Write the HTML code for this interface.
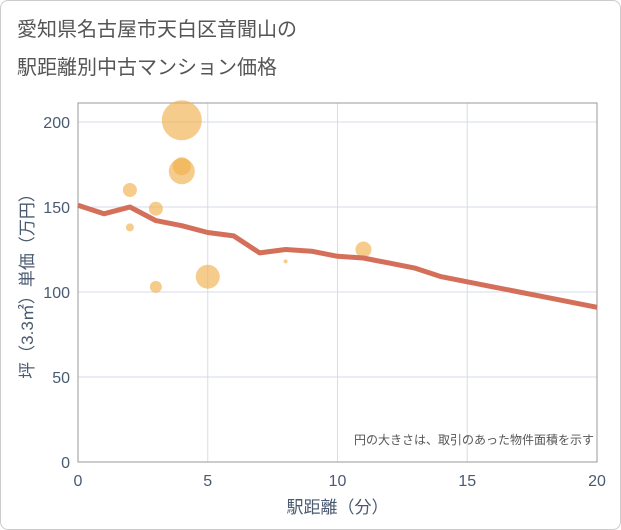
<!DOCTYPE html>
<html><head><meta charset="utf-8"><style>
body{margin:0;background:#fff;font-family:"Liberation Sans","Noto Sans CJK JP",sans-serif;}
#wrap{position:relative;width:619px;height:528px;border:1px solid #ccc;border-radius:8px;overflow:hidden;background:#fff}
.title{position:absolute;left:16px;font-size:20px;color:#555;line-height:30px}
</style></head><body>
<div id="wrap">
<div class="title" style="top:14px">愛知県名古屋市天白区音聞山の</div>
<div class="title" style="top:52px">駅距離別中古マンション価格</div>
<svg id="chart" width="621" height="530" style="position:absolute;left:-1px;top:-1px"></svg>
</div>
<script>
const xTicks=[0,5,10,15,20];
const yTicks=[0,50,100,150,200];
const lineX=[0,1,2,3,4,5,6,7,8,9,10,11,12,13,14,15,16,17,18,19,20];
const lineY=[151,146,150,142,139,135,133,123,125,124,121,120,117,114,109,106,103,100,97,94,91];
const bubbleX=[4,4,4,2,3,2,11,5,3,8];
const bubbleY=[201,174,171,160,149,138,125,109,103,118];
const bubbleR=[20,9,13,7,7,4,8,12,6,2];
const NS='http://www.w3.org/2000/svg';
const svg=document.getElementById('chart');
const L=78,R=597,T=103,B=462;
const AX='#4a5a70';
const sx=v=>L+(v-0)/(20-0)*(R-L);
const sy=v=>B-v*1.7;
function mk(tag,attrs,parent){const e=document.createElementNS(NS,tag);for(const k in attrs)e.setAttribute(k,attrs[k]);(parent||svg).appendChild(e);return e;}
let e=mk('rect',{x:L,y:T,width:R-L,height:B-T,fill:'#fff',stroke:'none'});


yTicks.forEach(v=>{
 let g=mk('line',{x1:L,x2:R,y1:sy(v),y2:sy(v),stroke:'#d5dde8','stroke-width':1});
 
 
 let t=mk('text',{x:L-8,y:sy(v)+6,'text-anchor':'end','font-size':16,fill:AX});
 t.textContent=v;
 
 
});
xTicks.forEach(v=>{
 let g=mk('line',{x1:sx(v),x2:sx(v),y1:T,y2:B,stroke:'#d5dde8','stroke-width':1});
 
 
 let t=mk('text',{x:sx(v),y:B+24,'text-anchor':'middle','font-size':16,fill:AX});
 t.textContent=v;
 
 
});
e=mk('rect',{x:L,y:T,width:R-L,height:B-T,fill:'none',stroke:'#999','stroke-width':1});


bubbleX.forEach((x,i)=>{
 let c=mk('circle',{cx:sx(x),cy:sy(bubbleY[i]),r:bubbleR[i],fill:'#f0b04d','fill-opacity':0.65});
 
 
});
let p=mk('polyline',{points:lineX.map((x,i)=>sx(x)+','+sy(lineY[i])).join(' '),fill:'none',stroke:'#d4705a','stroke-width':5,'stroke-linejoin':'round'});


let n=mk('text',{x:594,y:444,'text-anchor':'end','font-size':12,fill:'#555'});
n.textContent='円の大きさは、取引のあった物件面積を示す';


let xt=mk('text',{x:(L+R)/2,y:513,'text-anchor':'middle','font-size':17,fill:AX});
xt.textContent='駅距離（分）';


let yt=mk('text',{x:0,y:0,'text-anchor':'middle','font-size':17,fill:AX,transform:'translate(33,282) rotate(-90)'});
yt.textContent='坪（3.3㎡）単価（万円）';


</script>
</body></html>
